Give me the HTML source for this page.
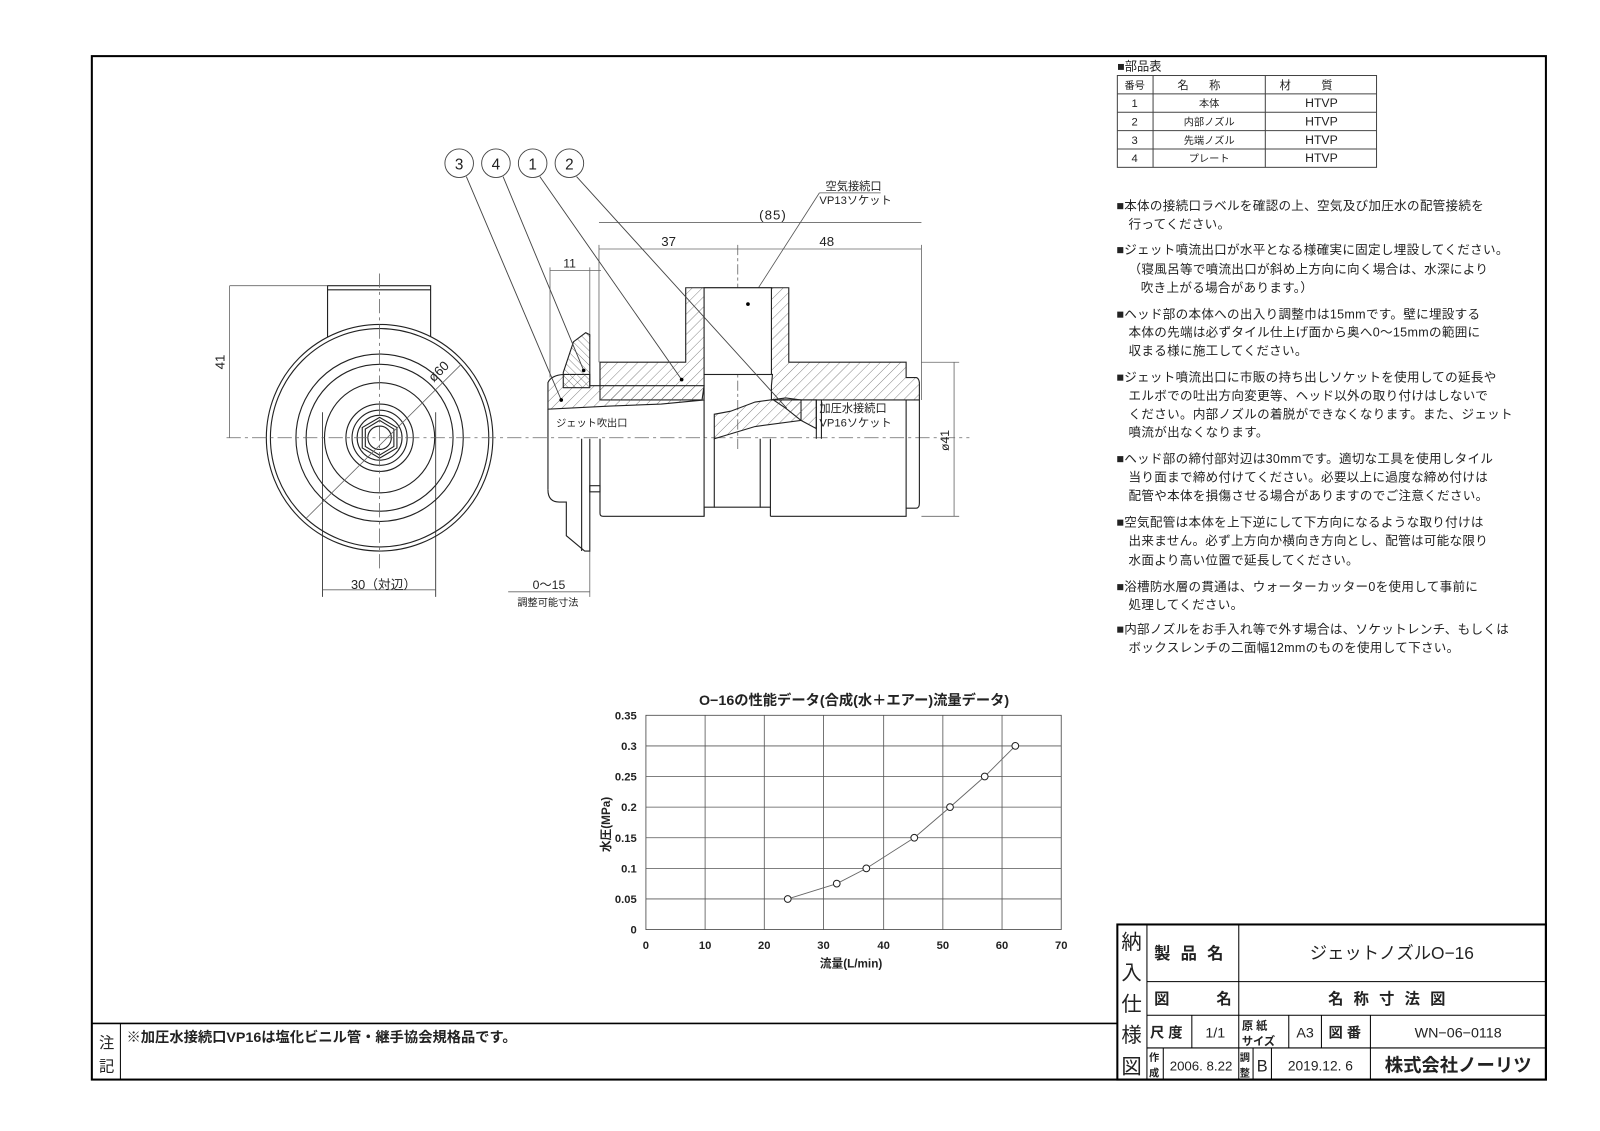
<!DOCTYPE html>
<html><head><meta charset="utf-8"><style>
html,body{margin:0;padding:0;background:#fff}
svg{display:block}
text{font-family:"Liberation Sans","Noto Sans CJK JP",sans-serif;fill:#222}
</style></head><body>
<svg width="1600" height="1131" viewBox="0 0 1568 1108.4" preserveAspectRatio="none" xmlns="http://www.w3.org/2000/svg">
<defs>
<pattern id="h" width="7" height="7" patternUnits="userSpaceOnUse" patternTransform="rotate(45)"><line x1="0" y1="0" x2="0" y2="7" stroke="#555" stroke-width="0.7"/></pattern>
<pattern id="h2" width="5" height="5" patternUnits="userSpaceOnUse" patternTransform="rotate(-45)"><line x1="0" y1="0" x2="0" y2="5" stroke="#555" stroke-width="0.7"/></pattern>
</defs>
<rect width="1568" height="1109" fill="#fff"/>
<rect x="90" y="55" width="1425" height="1003" fill="none" stroke="#000" stroke-width="2"/>
<line x1="90" y1="1003" x2="1095" y2="1003" stroke="#000" stroke-width="1.5"/>
<line x1="118" y1="1003" x2="118" y2="1058" stroke="#000" stroke-width="1"/>
<text x="97" y="1027" font-size="15">注</text><text x="97" y="1050" font-size="15">記</text>
<text x="124" y="1021" font-size="14" font-weight="bold">※加圧水接続口VP16は塩化ビニル管・継手協会規格品です。</text>
<g stroke="#000" fill="none">
<rect x="1095" y="906" width="420" height="152" stroke-width="2"/>
<line x1="1124" y1="906" x2="1124" y2="1058" stroke-width="1"/>
<line x1="1124" y1="962" x2="1515" y2="962"/>
<line x1="1124" y1="995" x2="1515" y2="995"/>
<line x1="1124" y1="1027" x2="1515" y2="1027"/>
<line x1="1214" y1="906" x2="1214" y2="1058"/>
<line x1="1168" y1="995" x2="1168" y2="1027"/>
<line x1="1263" y1="995" x2="1263" y2="1027"/>
<line x1="1295" y1="995" x2="1295" y2="1027"/>
<line x1="1343" y1="995" x2="1343" y2="1058"/>
<line x1="1140" y1="1027" x2="1140" y2="1058"/>
<line x1="1228" y1="1027" x2="1228" y2="1058"/>
<line x1="1246" y1="1027" x2="1246" y2="1058"/>
</g>
<g font-size="20"><text x="1099" y="930">納</text><text x="1099" y="960">入</text><text x="1099" y="991">仕</text><text x="1099" y="1021">様</text><text x="1099" y="1052">図</text></g>
<text x="1131" y="940" font-size="16" font-weight="bold" letter-spacing="10">製品名</text>
<text x="1131" y="984" font-size="15" font-weight="bold">図</text><text x="1192" y="984" font-size="15" font-weight="bold">名</text>
<text x="1364" y="940" font-size="17" text-anchor="middle">ジェットノズルO−16</text>
<text x="1364" y="984" font-size="15" font-weight="bold" text-anchor="middle" letter-spacing="10">名称寸法図</text>
<text x="1127" y="1017" font-size="14" font-weight="bold">尺 度</text>
<text x="1191" y="1017" font-size="14" text-anchor="middle">1/1</text>
<text x="1217" y="1009" font-size="11" font-weight="bold">原 紙</text><text x="1217" y="1024" font-size="11" font-weight="bold">サイズ</text>
<text x="1279" y="1017" font-size="14" text-anchor="middle">A3</text>
<text x="1302" y="1017" font-size="14" font-weight="bold">図 番</text>
<text x="1429" y="1017" font-size="14" text-anchor="middle">WN−06−0118</text>
<text x="1126" y="1040" font-size="10" font-weight="bold">作</text><text x="1126" y="1055" font-size="10" font-weight="bold">成</text>
<text x="1177" y="1049" font-size="13" text-anchor="middle">2006. 8.22</text>
<text x="1215" y="1040" font-size="10" font-weight="bold">調</text><text x="1215" y="1055" font-size="10" font-weight="bold">整</text>
<text x="1237" y="1050" font-size="16" text-anchor="middle">B</text>
<text x="1294" y="1049" font-size="13.5" text-anchor="middle">2019.12. 6</text>
<text x="1429" y="1050" font-size="18" font-weight="bold" text-anchor="middle">株式会社ノーリツ</text>

<text x="1095" y="69" font-size="12">■部品表</text>
<g stroke="#444" fill="none" stroke-width="1">
<rect x="1095" y="74" width="254" height="90"/>
<line x1="1095" y1="92" x2="1349" y2="92"/><line x1="1095" y1="110" x2="1349" y2="110"/>
<line x1="1095" y1="128" x2="1349" y2="128"/><line x1="1095" y1="146" x2="1349" y2="146"/>
<line x1="1130" y1="74" x2="1130" y2="164"/><line x1="1240" y1="74" x2="1240" y2="164"/>
</g>
<g font-size="11" text-anchor="middle" fill="#333">
<text x="1112" y="87" font-size="10">番号</text><text x="1185" y="87" letter-spacing="20">名称</text><text x="1295" y="87" letter-spacing="30">材質</text>
<text x="1112" y="105">1</text><text x="1185" y="105" font-size="10">本体</text><text x="1295" y="105" font-size="12">HTVP</text>
<text x="1112" y="123">2</text><text x="1185" y="123" font-size="10">内部ノズル</text><text x="1295" y="123" font-size="12">HTVP</text>
<text x="1112" y="141">3</text><text x="1185" y="141" font-size="10">先端ノズル</text><text x="1295" y="141" font-size="12">HTVP</text>
<text x="1112" y="159">4</text><text x="1185" y="159" font-size="10">プレート</text><text x="1295" y="159" font-size="12">HTVP</text>
</g>

<g font-size="12.3" fill="#333" letter-spacing="0.3">
<text x="1094" y="206">■本体の接続口ラベルを確認の上、空気及び加圧水の配管接続を</text>
<text x="1106" y="224">行ってください。</text>
<text x="1094" y="249">■ジェット噴流出口が水平となる様確実に固定し埋設してください。</text>
<text x="1106" y="268">（寝風呂等で噴流出口が斜め上方向に向く場合は、水深により</text>
<text x="1118" y="286">吹き上がる場合があります。）</text>
<text x="1094" y="312">■ヘッド部の本体への出入り調整巾は15mmです。壁に埋設する</text>
<text x="1106" y="330">本体の先端は必ずタイル仕上げ面から奥へ0〜15mmの範囲に</text>
<text x="1106" y="348">収まる様に施工してください。</text>
<text x="1094" y="374">■ジェット噴流出口に市販の持ち出しソケットを使用しての延長や</text>
<text x="1106" y="392">エルボでの吐出方向変更等、ヘッド以外の取り付けはしないで</text>
<text x="1106" y="410">ください。内部ノズルの着脱ができなくなります。また、ジェット</text>
<text x="1106" y="428">噴流が出なくなります。</text>
<text x="1094" y="454">■ヘッド部の締付部対辺は30mmです。適切な工具を使用しタイル</text>
<text x="1106" y="472">当り面まで締め付けてください。必要以上に過度な締め付けは</text>
<text x="1106" y="490">配管や本体を損傷させる場合がありますのでご注意ください。</text>
<text x="1094" y="516">■空気配管は本体を上下逆にして下方向になるような取り付けは</text>
<text x="1106" y="534">出来ません。必ず上方向か横向き方向とし、配管は可能な限り</text>
<text x="1106" y="553">水面より高い位置で延長してください。</text>
<text x="1094" y="579">■浴槽防水層の貫通は、ウォーターカッター0を使用して事前に</text>
<text x="1106" y="597">処理してください。</text>
<text x="1094" y="621">■内部ノズルをお手入れ等で外す場合は、ソケットレンチ、もしくは</text>
<text x="1106" y="639">ボックスレンチの二面幅12mmのものを使用して下さい。</text>
</g>

<g stroke="#222" fill="none" stroke-width="1.1">
<rect x="321" y="280" width="101" height="52" fill="#fff"/>
<line x1="321" y1="284" x2="422" y2="284"/>
<circle cx="372" cy="429" r="111" fill="#fff"/>
<circle cx="372" cy="429" r="107"/>
<circle cx="372" cy="429" r="82"/>
<circle cx="372" cy="429" r="72"/>
<circle cx="372" cy="429" r="54"/>
<circle cx="372" cy="429" r="33"/>
<circle cx="372" cy="429" r="27"/>
<circle cx="372" cy="429" r="22"/>
<polygon points="372,409 389,419 389,439 372,449 355,439 355,419"/>
<polygon points="372,412 386,420.5 386,437.5 372,446 358,437.5 358,420.5"/>
<circle cx="372" cy="429" r="11.5"/>
<line x1="316" y1="404" x2="316" y2="585" stroke-width="0.8"/>
<line x1="427" y1="404" x2="427" y2="585" stroke-width="0.8"/>
</g>
<g stroke="#666" stroke-width="0.8" fill="none">
<line x1="372" y1="268" x2="372" y2="558" stroke-dasharray="14,4,3,4"/>
<line x1="222" y1="429" x2="950" y2="429" stroke-dasharray="14,4,3,4"/>
<line x1="225" y1="280" x2="225" y2="429"/>
<line x1="225" y1="280" x2="321" y2="280"/>
<line x1="300" y1="508" x2="452" y2="357"/>
<line x1="316" y1="578" x2="427" y2="578"/>
<line x1="587" y1="240" x2="587" y2="355"/><line x1="903" y1="240" x2="903" y2="392"/>
<line x1="723" y1="240" x2="723" y2="440" stroke-dasharray="10,3,3,3"/>
<line x1="587" y1="218" x2="903" y2="218"/>
<line x1="587" y1="244" x2="723" y2="244"/><line x1="723" y1="244" x2="903" y2="244"/>
<line x1="539" y1="265" x2="589" y2="265"/><line x1="539" y1="262" x2="539" y2="370"/>
<line x1="578" y1="262" x2="578" y2="330"/>
<line x1="903" y1="355" x2="940" y2="355"/><line x1="903" y1="506" x2="940" y2="506"/>
<line x1="935" y1="355" x2="935" y2="506"/>
<line x1="498" y1="580" x2="578" y2="580"/><line x1="578" y1="540" x2="578" y2="585"/>
</g>
<g font-size="12" fill="#444">
<text x="220" y="362" transform="rotate(-90 220 362)" font-size="13">41</text>
<text x="425" y="375" transform="rotate(-45 425 375)" font-size="13">ø60</text>
<text x="344" y="577" font-size="12.5">30（対辺）</text>
<text x="744" y="215" font-size="13" letter-spacing="1">(85)</text>
<text x="648" y="241" font-size="13">37</text>
<text x="803" y="241" font-size="13">48</text>
<text x="552" y="262" font-size="12">11</text>
<text x="930" y="442" transform="rotate(-90 930 442)" font-size="12">ø41</text>
<text x="522" y="577" font-size="12">0〜15</text>
<text x="507" y="594" font-size="10">調整可能寸法</text>
<text x="809" y="186" font-size="11">空気接続口</text>
<text x="803" y="200" font-size="11">VP13ソケット</text>
<text x="803" y="404" font-size="11">加圧水接続口</text>
<text x="803" y="418" font-size="11">VP16ソケット</text>
<text x="545" y="418" font-size="10">ジェット吹出口</text>
</g>
<line x1="803" y1="189" x2="863" y2="189" stroke="#555" stroke-width="0.8"/>
<line x1="803" y1="189" x2="733" y2="298" stroke="#555" stroke-width="0.8"/>

<g stroke="#222" stroke-width="1.1">
<path d="M588,355 L672,355 L672,282 L773,282 L773,355 L888,355 L888,370 L898,370 Q901,371 901,376 L901,392 L756,392 L756,378 L757,367 L690,367 L690,378 L688,392 L588,392 Z" fill="url(#h)"/>
<rect x="690" y="282" width="66" height="85" fill="#fff"/>
<path d="M537,375 Q540,368 552,367 L578,367 L578,378 L690,378 L690,392 L648,396 L598,398 L537,401 Z" fill="url(#h)"/>
<path d="M552,365 L562,335 L574,326 L578,328 L578,380 L552,380 Z" fill="url(#h2)"/>
<path d="M700,430 L700,406 L716,403 L740,394 L770,390 L785,392 L785,412 L740,418 Z" fill="url(#h)"/>
<path d="M758,392 L800,392 L800,420 L785,412 L770,400 Z" fill="url(#h)"/>
</g>
<g stroke="#222" stroke-width="1.1" fill="none">
<line x1="537" y1="401" x2="537" y2="480"/>
<path d="M537,480 Q537,492 548,492 L555,492 L555,525 L573,540 L578,540 L578,430"/>
<line x1="570" y1="430" x2="570" y2="540"/>
<rect x="578" y="476" width="10" height="6"/>
<path d="M588,430 L588,503 Q588,506 591,506 L690,506 L690,497 L700,497 L700,430"/>
<path d="M700,497 L745,497 L745,430"/>
<path d="M755,430 L755,497 L745,497"/>
<path d="M755,506 L888,506 L888,498 L898,498 Q901,498 901,493 L901,392"/>
<line x1="888" y1="392" x2="888" y2="498"/>
<line x1="690" y1="392" x2="690" y2="430"/>
<line x1="800" y1="392" x2="800" y2="430"/><line x1="805" y1="392" x2="805" y2="430"/>
<line x1="690" y1="506" x2="690" y2="430"/><line x1="755" y1="506" x2="755" y2="497"/>
</g>
<g stroke="#444" fill="none" stroke-width="0.9">
<circle cx="450" cy="160" r="14"/><circle cx="486" cy="160" r="14"/>
<circle cx="522" cy="160" r="14"/><circle cx="558" cy="160" r="14"/>
<line x1="457" y1="173" x2="550" y2="392"/>
<line x1="493" y1="173" x2="572" y2="363"/>
<line x1="529" y1="173" x2="668" y2="372"/>
<line x1="565" y1="173" x2="771" y2="400"/>
</g>
<g fill="#000"><circle cx="550" cy="392" r="1.8"/><circle cx="572" cy="363" r="1.8"/><circle cx="668" cy="372" r="1.8"/><circle cx="733" cy="298" r="1.8"/></g>
<g font-size="15" fill="#444" text-anchor="middle"><text x="450" y="166">3</text><text x="486" y="166">4</text><text x="522" y="166">1</text><text x="558" y="166">2</text></g>

<text x="837" y="691" font-size="14" font-weight="bold" text-anchor="middle">O−16の性能データ(合成(水＋エアー)流量データ)</text>
<g stroke="#555" stroke-width="0.8">
<rect x="633" y="701" width="407" height="210" fill="none" stroke="#444"/>
<line x1="633" y1="731" x2="1040" y2="731"/><line x1="633" y1="761" x2="1040" y2="761"/>
<line x1="633" y1="791" x2="1040" y2="791"/><line x1="633" y1="821" x2="1040" y2="821"/>
<line x1="633" y1="851" x2="1040" y2="851"/><line x1="633" y1="881" x2="1040" y2="881"/>
<line x1="691" y1="701" x2="691" y2="911"/><line x1="749" y1="701" x2="749" y2="911"/>
<line x1="807" y1="701" x2="807" y2="911"/><line x1="866" y1="701" x2="866" y2="911"/>
<line x1="924" y1="701" x2="924" y2="911"/><line x1="982" y1="701" x2="982" y2="911"/>
</g>
<polyline points="772,881 820,866 849,851 896,821 931,791 965,761 995,731" fill="none" stroke="#666" stroke-width="0.9"/>
<g fill="#fff" stroke="#222" stroke-width="1"><circle cx="772" cy="881" r="3.3"/><circle cx="820" cy="866" r="3.3"/><circle cx="849" cy="851" r="3.3"/><circle cx="896" cy="821" r="3.3"/><circle cx="931" cy="791" r="3.3"/><circle cx="965" cy="761" r="3.3"/><circle cx="995" cy="731" r="3.3"/></g>
<g font-size="11" font-weight="bold" text-anchor="end">
<text x="624" y="705">0.35</text><text x="624" y="735">0.3</text><text x="624" y="765">0.25</text><text x="624" y="795">0.2</text>
<text x="624" y="825">0.15</text><text x="624" y="855">0.1</text><text x="624" y="885">0.05</text><text x="624" y="915">0</text>
</g>
<g font-size="11" font-weight="bold" text-anchor="middle">
<text x="633" y="930">0</text><text x="691" y="930">10</text><text x="749" y="930">20</text><text x="807" y="930">30</text>
<text x="866" y="930">40</text><text x="924" y="930">50</text><text x="982" y="930">60</text><text x="1040" y="930">70</text>
</g>
<text x="834" y="948" font-size="11.5" font-weight="bold" text-anchor="middle">流量(L/min)</text>
<text x="598" y="808" font-size="11.5" font-weight="bold" text-anchor="middle" transform="rotate(-90 598 808)">水圧(MPa)</text>
</svg>
</body></html>
